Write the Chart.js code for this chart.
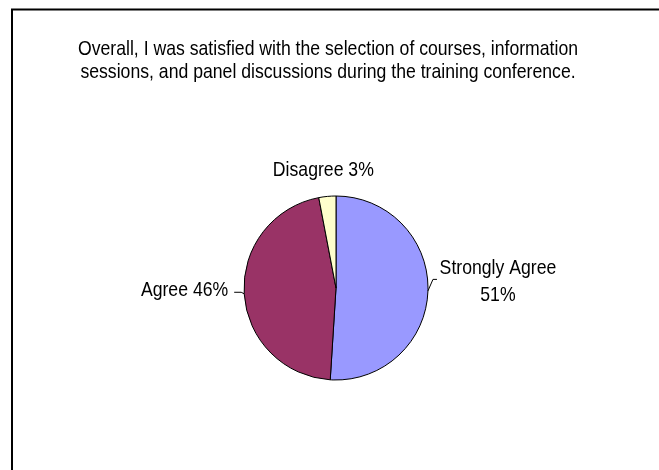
<!DOCTYPE html>
<html>
<head>
<meta charset="utf-8">
<script src="https://cdn.jsdelivr.net/npm/chart.js@4"></script>
<style>
  html, body { margin: 0; padding: 0; background: #fff; }
  #wrap { width: 659px; height: 470px; }
</style>
</head>
<body>
<div id="wrap"><canvas id="pieChart" width="659" height="470"></canvas></div>
<script>
// Survey data
const categories = ['Strongly Agree', 'Agree', 'Disagree'];
const percents = [51, 46, 3];
const sliceColors = ['#9999FF', '#993366', '#FFFFCC'];
const titleLines = [
    'Overall, I was satisfied with the selection of courses, information',
    'sessions, and panel discussions during the training conference.'
];

// no narrow font installed, so squeeze Liberation Sans horizontally
const FONT = '21px "Liberation Sans", Arial, sans-serif';
const SQUEEZE = 0.84;

// Label placement relative to the slice edge (dx, dy), alignment, and leader points
const labelLayout = [
    { dx: 70, dy: -9, align: 'center', wrap: true, leader: [[5, -11.5], [9, -11.5]] },
    { dx: -16, dy: -4, align: 'right', wrap: false, leader: [[-3, -1.5], [-10, -1.5]] },
    { dx: -4, dy: -26, align: 'center', wrap: false, leader: null }
];

function narrowText(ctx, text, x, y, align) {
    ctx.save();
    ctx.translate(x, y);
    ctx.scale(SQUEEZE, 1);
    ctx.textAlign = align;
    ctx.fillText(text, 0, 0);
    ctx.restore();
}

// Draws the frame, title and the outside labels
const decorPlugin = {
    id: 'decor',
    beforeDraw(chart) {
        const ctx = chart.ctx;
        ctx.save();
        ctx.fillStyle = '#fff';
        ctx.fillRect(0, 0, chart.width, chart.height);
        ctx.strokeStyle = '#000';
        ctx.lineWidth = 2;
        ctx.beginPath();
        ctx.moveTo(12, chart.height + 5);
        ctx.lineTo(12, 9.5);
        ctx.lineTo(chart.width + 5, 9.5);
        ctx.stroke();

        ctx.fillStyle = '#000';
        ctx.font = FONT;
        ctx.textBaseline = 'middle';
        titleLines.forEach((line, i) => {
            narrowText(ctx, line, 328, 49 + i * 23, 'center');
        });
        ctx.restore();
    },
    afterDatasetsDraw(chart) {
        const ctx = chart.ctx;
        const meta = chart.getDatasetMeta(0);
        ctx.save();
        ctx.font = FONT;
        ctx.fillStyle = '#000';
        ctx.strokeStyle = '#000';
        ctx.lineWidth = 1;
        ctx.textBaseline = 'middle';
        meta.data.forEach((arc, i) => {
            const p = arc.getProps(['x', 'y', 'startAngle', 'endAngle', 'outerRadius'], true);
            const mid = (p.startAngle + p.endAngle) / 2;
            const ex = p.x + Math.cos(mid) * p.outerRadius;
            const ey = p.y + Math.sin(mid) * p.outerRadius;
            const lay = labelLayout[i];

            if (lay.leader) {
                ctx.beginPath();
                ctx.moveTo(ex, ey);
                lay.leader.forEach(pt => ctx.lineTo(ex + pt[0], ey + pt[1]));
                ctx.stroke();
            }

            const pct = percents[i] + '%';
            const lines = lay.wrap ? [categories[i], pct] : [categories[i] + ' ' + pct];
            const lh = 26.5;
            const startY = ey + lay.dy - (lines.length - 1) * lh / 2;
            lines.forEach((t, k) => {
                narrowText(ctx, t, ex + lay.dx, startY + k * lh, lay.align);
            });
        });
        ctx.restore();
    }
};

new Chart(document.getElementById('pieChart'), {
    type: 'pie',
    data: {
        labels: categories,
        datasets: [{
            data: percents,
            backgroundColor: sliceColors,
            borderColor: '#000',
            borderWidth: 1,
            hoverOffset: 0
        }]
    },
    options: {
        responsive: false,
        animation: false,
        events: [],
        radius: 92,
        layout: { padding: { left: 13, right: 0, top: 106, bottom: 0 } },
        plugins: {
            legend: { display: false },
            title: { display: false },
            tooltip: { enabled: false }
        }
    },
    plugins: [decorPlugin]
});
</script>
</body>
</html>
